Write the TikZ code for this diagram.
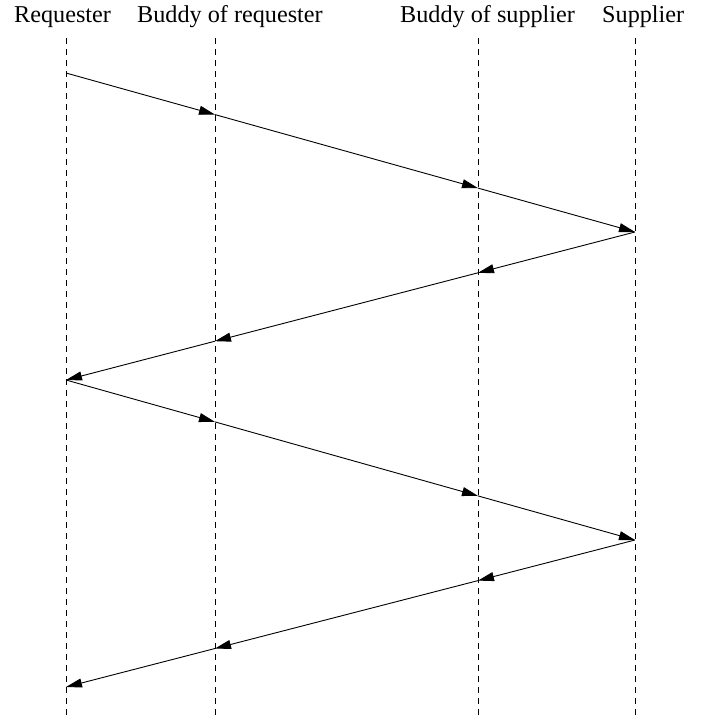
\documentclass[tikz,border=0pt]{standalone}
\usepackage{fontspec}
\setmainfont{Liberation Serif}
\usetikzlibrary{arrows.meta}

\begin{document}
\begin{tikzpicture}[x=1pt,y=-1pt,
        lifeline/.style={line width=0.8pt, dash pattern=on 6pt off 5pt},
        msg/.style={line width=0.9pt, -{Triangle[length=16pt,width=9pt]}},
        role/.style={anchor=base west, inner sep=0pt, font=\fontsize{24.2}{29}\selectfont}]
        \useasboundingbox (0,0) rectangle (701,719);
        % roles
        \node[role] (requester) at (14,23) {Requester};
        \node[role] (buddyreq) at (137,23) {Buddy of requester};
        \node[role] (buddysup) at (400,23) {Buddy of supplier};
        \node[role] (supplier) at (602,23) {Supplier};
        % lifelines
        \coordinate (reqtop) at (66,38);   \coordinate (reqbot) at (66,719);
        \coordinate (brtop) at (215,38);   \coordinate (brbot) at (215,719);
        \coordinate (bstop) at (478,38);   \coordinate (bsbot) at (478,719);
        \coordinate (suptop) at (635,38);  \coordinate (supbot) at (635,719);
        \draw[lifeline] (reqtop) -- (reqbot);
        \draw[lifeline] (brtop) -- (brbot);
        \draw[lifeline] (bstop) -- (bsbot);
        \draw[lifeline] (suptop) -- (supbot);
        % first round
        \coordinate (req1) at (66,73);
        \coordinate (br1) at (215,114.6);
        \coordinate (bs1) at (478,188.1);
        \coordinate (sup1) at (635,232);
        \coordinate (bs2) at (478,272.8);
        \coordinate (br2) at (215,341.2);
        \coordinate (req2) at (66,380);
        \draw[msg] (req1) -- (br1);
        \draw[msg] (br1) -- (bs1);
        \draw[msg] (bs1) -- (sup1);
        \draw[msg] (sup1) -- (bs2);
        \draw[msg] (bs2) -- (br2);
        \draw[msg] (br2) -- (req2);
        % second round
        \coordinate (br3) at (215,421.9);
        \coordinate (bs3) at (478,495.9);
        \coordinate (sup2) at (635,540);
        \coordinate (bs4) at (478,580.6);
        \coordinate (br4) at (215,648.5);
        \coordinate (req3) at (66,687);
        \draw[msg] (req2) -- (br3);
        \draw[msg] (br3) -- (bs3);
        \draw[msg] (bs3) -- (sup2);
        \draw[msg] (sup2) -- (bs4);
        \draw[msg] (bs4) -- (br4);
        \draw[msg] (br4) -- (req3);
\end{tikzpicture}
\end{document}
